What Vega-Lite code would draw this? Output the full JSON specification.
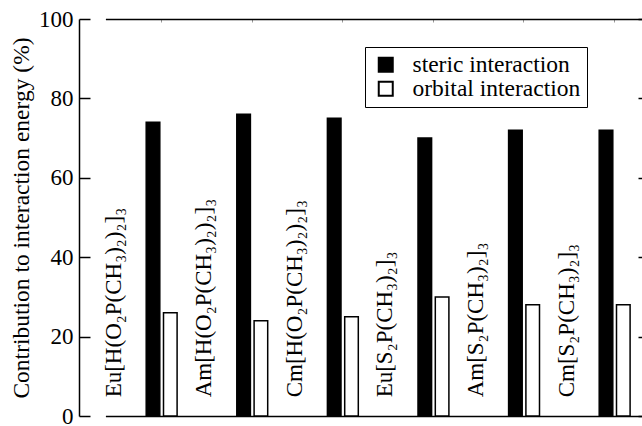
{
  "$schema": "https://vega.github.io/schema/vega-lite/v6.json",
  "width": 563,
  "height": 397,
  "autosize": "none",
  "padding": {"left": 79, "top": 19, "right": 0, "bottom": 10},
  "background": "white",
  "config": {
    "view": {"stroke": null},
    "font": "Liberation Serif",
    "text": {"font": "Liberation Serif"},
    "style": {
      "guide-label": {"font": "Liberation Serif", "fill": "black"},
      "guide-title": {"font": "Liberation Serif", "fill": "black"}
    },
    "axis": {
      "labelFont": "Liberation Serif",
      "titleFont": "Liberation Serif",
      "labelColor": "black",
      "titleColor": "black",
      "domainColor": "black",
      "tickColor": "black",
      "titleFontWeight": "normal"
    },
    "legend": {"labelFont": "Liberation Serif", "titleFont": "Liberation Serif"}
  },
  "datasets": {
    "bars": [
      {"complex": "Eu[H(O₂P(CH₃)₂)₂]₃", "component": "steric interaction", "value": 74},
      {"complex": "Eu[H(O₂P(CH₃)₂)₂]₃", "component": "orbital interaction", "value": 26},
      {"complex": "Am[H(O₂P(CH₃)₂)₂]₃", "component": "steric interaction", "value": 76},
      {"complex": "Am[H(O₂P(CH₃)₂)₂]₃", "component": "orbital interaction", "value": 24},
      {"complex": "Cm[H(O₂P(CH₃)₂)₂]₃", "component": "steric interaction", "value": 75},
      {"complex": "Cm[H(O₂P(CH₃)₂)₂]₃", "component": "orbital interaction", "value": 25},
      {"complex": "Eu[S₂P(CH₃)₂]₃", "component": "steric interaction", "value": 70},
      {"complex": "Eu[S₂P(CH₃)₂]₃", "component": "orbital interaction", "value": 30},
      {"complex": "Am[S₂P(CH₃)₂]₃", "component": "steric interaction", "value": 72},
      {"complex": "Am[S₂P(CH₃)₂]₃", "component": "orbital interaction", "value": 28},
      {"complex": "Cm[S₂P(CH₃)₂]₃", "component": "steric interaction", "value": 72},
      {"complex": "Cm[S₂P(CH₃)₂]₃", "component": "orbital interaction", "value": 28}
    ],
    "labels": [
      {"complex": "Eu[H(O₂P(CH₃)₂)₂]₃"},
      {"complex": "Am[H(O₂P(CH₃)₂)₂]₃"},
      {"complex": "Cm[H(O₂P(CH₃)₂)₂]₃"},
      {"complex": "Eu[S₂P(CH₃)₂]₃"},
      {"complex": "Am[S₂P(CH₃)₂]₃"},
      {"complex": "Cm[S₂P(CH₃)₂]₃"}
    ]
  },
  "layer": [
    {
      "data": {"name": "bars"},
      "mark": {"type": "bar", "stroke": "black", "strokeWidth": 1.5},
      "encoding": {
        "x": {
          "field": "complex",
          "type": "nominal",
          "sort": ["Eu[H(O₂P(CH₃)₂)₂]₃", "Am[H(O₂P(CH₃)₂)₂]₃", "Cm[H(O₂P(CH₃)₂)₂]₃", "Eu[S₂P(CH₃)₂]₃", "Am[S₂P(CH₃)₂]₃", "Cm[S₂P(CH₃)₂]₃"],
          "scale": {"range": [26.4, 570], "paddingInner": 0, "paddingOuter": 0},
          "axis": {"orient": "bottom", "title": null, "labels": false, "ticks": false, "domain": true, "domainWidth": 1.5}
        },
        "xOffset": {
          "field": "component",
          "type": "nominal",
          "sort": ["steric interaction", "orbital interaction"],
          "scale": {"range": [40.8, 71.7], "paddingInner": 0.214, "paddingOuter": 0}
        },
        "y": {
          "field": "value",
          "type": "quantitative",
          "scale": {"domain": [0, 100], "nice": false},
          "axis": {
            "title": "Contribution to interaction energy (%)",
            "values": [0, 20, 40, 60, 80, 100],
            "tickSize": -11,
            "tickWidth": 1.5,
            "grid": false,
            "labelFont": "Liberation Serif",
            "titleFont": "Liberation Serif",
            "labelFontSize": 23,
            "titleFontSize": 23.5,
            "labelPadding": 17,
            "titlePadding": 5,
            "domainWidth": 1.5
          }
        },
        "fill": {
          "field": "component",
          "type": "nominal",
          "scale": {"domain": ["steric interaction", "orbital interaction"], "range": ["black", "white"]},
          "legend": {
            "orient": "none",
            "legendX": 286,
            "legendY": 28,
            "title": null,
            "strokeColor": "black",
            "padding": 6,
            "fillColor": "white",
            "symbolType": "square",
            "symbolSize": 196,
            "symbolOffset": 3,
            "symbolStrokeColor": "black",
            "symbolStrokeWidth": 2,
            "labelFont": "Liberation Serif",
            "labelFontSize": 23.5,
            "labelColor": "black",
            "labelOffset": 15,
            "labelLimit": 400,
            "rowPadding": -4
          }
        }
      }
    },
    {
      "data": {"name": "labels"},
      "mark": {"type": "text", "angle": 270, "align": "left", "baseline": "middle", "fontSize": 23, "font": "Liberation Serif", "color": "black"},
      "encoding": {
        "x": {
          "field": "complex",
          "type": "nominal",
          "sort": ["Eu[H(O₂P(CH₃)₂)₂]₃", "Am[H(O₂P(CH₃)₂)₂]₃", "Cm[H(O₂P(CH₃)₂)₂]₃", "Eu[S₂P(CH₃)₂]₃", "Am[S₂P(CH₃)₂]₃", "Cm[S₂P(CH₃)₂]₃"],
          "bandPosition": 0.09,
          "axis": {"orient": "top", "title": null, "labels": false, "domain": true, "domainWidth": 1.5, "ticks": true, "tickSize": -3, "bandPosition": 0.62, "tickColor": "#999999"}
        },
        "y": {
          "datum": 4.7,
          "type": "quantitative",
          "axis": {"orient": "right", "offset": 7, "title": null, "labels": false, "domain": false, "values": [0, 20, 40, 60, 80, 100], "tickSize": -11, "tickWidth": 1.5, "grid": false}
        },
        "text": {"field": "complex"}
      }
    }
  ],
  "resolve": {"axis": {"x": "independent", "y": "independent"}}
}
